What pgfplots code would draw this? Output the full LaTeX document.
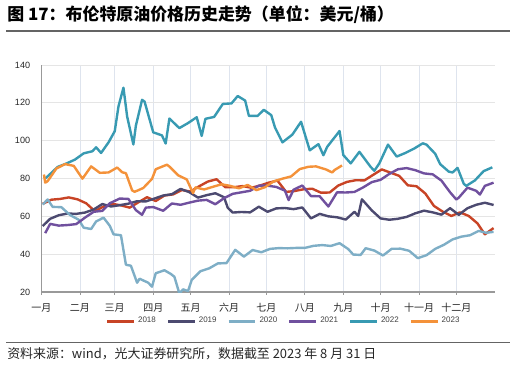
\documentclass[border=0pt]{standalone}
\usepackage{pgfplots}
\pgfplotsset{compat=1.18}
\usepackage{fontspec}
\setmainfont{Liberation Sans}
\newfontfamily\cjk{Noto Sans CJK SC}
\definecolor{c2018}{RGB}{200,68,38}
\definecolor{c2019}{RGB}{76,74,112}
\definecolor{c2020}{RGB}{126,174,198}
\definecolor{c2021}{RGB}{112,80,158}
\definecolor{c2022}{RGB}{56,154,178}
\definecolor{c2023}{RGB}{244,146,58}
\definecolor{rulegray}{RGB}{100,100,100}
\begin{document}
\begin{tikzpicture}
\path[use as bounding box] (0,0) rectangle (387pt,273pt);
\node[anchor=west, inner sep=0pt] at (5.25pt,261.75pt) {\cjk\bfseries\fontsize{12.7}{14}\selectfont 图 17：布伦特原油价格历史走势（单位：美元/桶）};
\draw[rulegray, line width=1.1pt] (4.5pt,249.75pt) -- (382.5pt,249.75pt);
\draw[rulegray, line width=1.0pt] (4.5pt,16.1pt) -- (382.5pt,16.1pt);
\node[anchor=west, inner sep=0pt, text=black!85] at (5.25pt,8.0pt) {\cjk\fontsize{9.7}{11}\selectfont 资料来源：wind，光大证券研究所，数据截至 2023 年 8 月 31 日};
\begin{axis}[
  at={(31.1pt,54pt)}, anchor=south west,
  scale only axis, width=340pt, height=170.25pt,
  xmin=0, xmax=365, ymin=20, ymax=140,
  ytick={20,40,60,80,100,120,140},
  xtick={0,31,59,90,120,151,181,212,243,273,304,334},
  xticklabels={一月,二月,三月,四月,五月,六月,七月,八月,九月,十月,十一月,十二月},
  axis lines=left,
  axis line style={-, draw=black!40, line width=0.9pt},
  ymajorgrids, xmajorgrids,
  major grid style={line width=0.6pt},
  y grid style={draw=black!10},
  x grid style={draw={rgb,255:red,222;green,228;blue,238}},
  ytick style={draw=none},
  xtick style={draw=black!40, line width=0.6pt},
  tick align=outside, major tick length=2pt,
  /pgf/number format/assume math mode=true,
  yticklabel style={font=\fontsize{6.8}{8}\selectfont, text=black!85, xshift=-3pt},
  xticklabel style={font=\cjk\fontsize{7.5}{8}\selectfont, text=black!85, yshift=-3pt},
  legend columns=6,
  legend style={at={(0.535,-0.128)}, anchor=center, draw=none, fill=none,
    font=\fontsize{6}{7}\selectfont, text=black!75,
    /tikz/every even column/.append style={column sep=6pt}},
  legend image code/.code={\draw[#1, line width=2.2pt] (0pt,0pt) -- (20pt,0pt);},
  every axis plot/.append style={line width=1.8pt, line join=round},
]
\addplot[c2018, no marks] coordinates {
(1,66.6)(8,68.8)(15,69.2)(22,70.0)(29,69.0)(36,66.9)(43,62.7)(50,65.2)(57,66.6)
(64,65.8)(71,64.6)(78,67.4)(85,70.1)(92,68.1)(99,71.0)(106,71.6)(113,73.9)
(120,73.1)(127,75.9)(134,78.4)(141,79.6)(148,75.4)(155,75.4)(162,76.0)(169,75.1)
(176,76.3)(183,77.8)(190,78.9)(197,72.9)(204,73.4)(211,74.3)(218,74.6)(225,72.5)
(232,72.6)(239,76.3)(246,78.2)(253,79.1)(260,79.0)(267,81.9)(274,84.8)(281,83.1)
(288,81.4)(295,76.4)(302,75.9)(309,72.1)(316,65.5)(323,62.5)(330,60.2)(337,62.1)
(344,60.2)(351,56.3)(357,50.5)(364,53.8)};
\addlegendentry{2018}
\addplot[c2019, no marks] coordinates {
(1,54.9)(7,58.7)(14,60.6)(21,61.5)(28,61.3)(35,62.0)(42,63.6)(49,66.5)(56,65.2)
(63,65.9)(70,66.7)(77,68.0)(84,67.9)(91,69.4)(98,71.0)(105,71.7)(112,74.5)
(119,72.8)(126,69.9)(133,71.2)(140,72.2)(147,70.1)(150,64.5)(154,62.0)(161,62.3)
(168,62.1)(175,65.1)(182,62.4)(189,64.2)(196,64.4)(203,63.8)(210,64.7)(217,58.9)
(224,61.3)(231,60.0)(238,59.5)(245,58.3)(252,62.4)(255,60.2)(258,69.0)(266,63.1)
(273,58.9)(280,58.2)(287,58.7)(294,59.7)(301,61.6)(308,63.0)(315,62.1)(322,60.9)
(329,64.3)(336,60.8)(343,64.3)(350,66.1)(357,67.2)(364,66.0)};
\addlegendentry{2019}
\addplot[c2020, no marks] coordinates {
(1,66.25)(5,68.9)(9,65.0)(16,64.85)(23,60.7)(30,58.2)(34,54.0)(40,53.3)(44,57.3)
(50,59.3)(55,55.0)(58,50.5)(64,50.0)(68,34.4)(72,33.9)(77,24.9)(79,27.0)(86,24.9)
(89,22.8)(92,29.9)(99,31.5)(104,29.6)(107,28.1)(111,19.3)(114,21.4)(118,20.5)
(121,26.4)(128,31.0)(135,32.5)(142,35.1)(149,35.3)(156,42.3)(163,38.7)(170,42.2)
(177,41.0)(184,42.8)(191,43.2)(198,43.1)(205,43.3)(212,43.3)(219,44.4)(226,44.8)
(233,44.35)(240,45.8)(247,42.7)(251,39.8)(257,39.6)(261,43.15)(268,41.9)(275,39.3)
(282,42.85)(289,42.9)(296,41.8)(303,37.9)(310,39.45)(317,42.8)(324,44.96)(331,47.8)
(338,49.25)(345,50.0)(352,52.3)(358,51.3)(364,51.8)};
\addlegendentry{2020}
\addplot[c2021, no marks] coordinates {
(3,51.1)(7,56.0)(14,55.1)(21,55.4)(28,55.9)(35,59.3)(42,62.4)(49,62.9)(55,66.9)
(63,69.4)(70,69.2)(76,63.3)(81,60.8)(84,64.6)(90,64.9)(98,62.95)(105,66.8)(112,66.1)
(119,67.25)(126,68.3)(133,68.7)(140,66.4)(147,69.6)(154,71.9)(161,72.7)(168,73.5)
(175,76.2)(182,76.2)(189,75.55)(196,73.6)(199,68.6)(203,74.1)(210,76.3)(217,70.7)
(224,70.6)(231,65.2)(238,72.7)(245,72.6)(252,72.9)(259,75.3)(266,78.1)(273,79.3)
(280,82.4)(287,84.9)(294,85.5)(301,84.4)(308,82.7)(315,82.2)(322,78.9)(329,72.7)
(334,68.9)(336,69.9)(343,75.15)(350,73.5)(353,71.5)(357,76.1)(364,77.8)};
\addlegendentry{2021}
\addplot[c2022, no marks] coordinates {
(3,80.0)(6,81.75)(13,86.1)(20,87.9)(27,90.0)(34,93.3)(41,94.4)(44,96.5)(48,93.5)
(54,99.1)(59,105.0)(62,118.1)(66,128.0)(69,112.7)(74,98.0)(76,107.9)(81,121.6)
(83,120.65)(90,104.4)(97,102.8)(100,98.5)(103,111.7)(111,106.65)(118,109.3)
(125,112.4)(129,102.5)(132,111.55)(139,112.55)(146,119.4)(153,119.7)(158,123.6)
(164,121.2)(167,113.1)(174,113.1)(179,116.3)(185,113.5)(188,107.0)(194,99.1)
(202,103.2)(209,110.0)(216,94.9)(223,98.15)(227,92.3)(230,96.7)(240,105.1)
(243,92.4)(249,88.0)(256,94.1)(265,86.15)(268,84.1)(272,87.96)(279,97.9)(286,91.6)
(293,93.5)(300,95.8)(307,98.6)(310,97.9)(317,93.1)(321,87.6)(328,83.6)(331,83.2)
(335,85.6)(340,77.2)(342,76.1)(349,79.0)(356,83.9)(363,85.9)};
\addlegendentry{2022}
\addplot[c2023, no marks] coordinates {
(2,82.1)(3,77.8)(5,78.6)(12,85.3)(19,87.6)(26,86.7)(33,79.9)(40,86.4)(47,83.0)
(54,83.2)(61,85.8)(65,83.3)(68,82.8)(73,73.7)(75,73.0)(78,73.8)(82,75.0)(89,79.8)
(92,84.9)(101,87.3)(103,86.3)(110,81.7)(117,79.5)(122,72.3)(124,75.3)(131,74.2)
(138,75.6)(145,76.95)(152,76.1)(159,74.8)(166,76.6)(173,73.85)(180,75.4)(187,78.5)
(194,79.9)(201,81.1)(208,85.0)(215,86.2)(221,86.4)(229,84.8)(234,83.2)(236,84.5)
(242,86.9)};
\addlegendentry{2023}
\end{axis}
\end{tikzpicture}
\end{document}
